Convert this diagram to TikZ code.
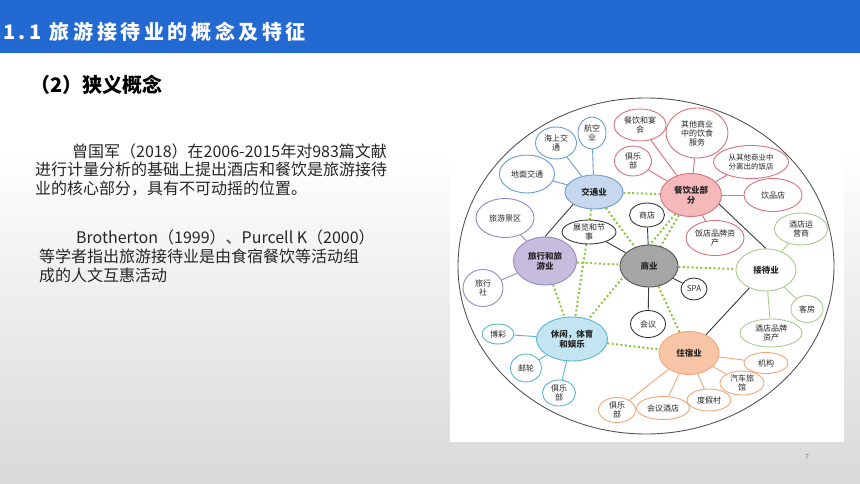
\documentclass[tikz,border=0pt]{standalone}
\usepackage{fontspec}
\usepackage{tikz}
\usetikzlibrary{shapes.geometric}
\setmainfont{Noto Sans CJK SC}
\newfontfamily\headfont[LetterSpace=18]{Noto Sans CJK SC}
\definecolor{bar}{HTML}{2369D2}
\definecolor{txt}{HTML}{262626}
\definecolor{gr}{HTML}{8DC63F}
\definecolor{b1}{HTML}{6B9BD2}
\definecolor{b2}{HTML}{C7D8EE}
\definecolor{r1}{HTML}{D8727A}
\definecolor{r2}{HTML}{F5B8BB}
\definecolor{g1}{HTML}{A8CC8C}
\definecolor{o1}{HTML}{F2A577}
\definecolor{o2}{HTML}{F8C6A6}
\definecolor{c1}{HTML}{5DB5D2}
\definecolor{c2}{HTML}{C3E5F1}
\definecolor{v1}{HTML}{9788C2}
\definecolor{v2}{HTML}{C6BCDD}
\definecolor{k1}{HTML}{555555}
\definecolor{k2}{HTML}{A6A6A6}
\definecolor{k3}{HTML}{3A3A3A}
\pgfdeclarelayer{bg}
\pgfdeclarelayer{links}
\pgfsetlayers{bg,links,main}

\begin{document}
\begin{tikzpicture}[x=1pt,y=-1pt,
  oval/.style 2 args={ellipse, draw, fill=white, line width=0.9pt, inner sep=0pt, text=black!85, minimum width=#1pt, minimum height=#2pt, align=center, font=\fontsize{8}{9}\selectfont},
  hub/.style={font=\bfseries\fontsize{8.5}{10}\selectfont},
  tie/.style={draw=gr, line width=2pt, dash pattern=on 2pt off 2.4pt},
  link/.style={line width=0.9pt}]
\useasboundingbox (0,0) rectangle (860,484);
\begin{pgfonlayer}{bg}
\fill[white] (0,0) rectangle (860,484);
\shade[top color=white, bottom color=black!15] (0,150) rectangle (860,484);
\fill[bar] (0,0) rectangle (860,53);
\fill[white] (450,92) rectangle (844,442);
\draw[k1, line width=0.9pt] (646,266) ellipse [x radius=188, y radius=168];
\end{pgfonlayer}

\node[anchor=base west, inner sep=0pt, text=white, font=\headfont\bfseries\fontsize{20}{24}\selectfont] (ttl) at (3,40) {1.1 旅游接待业的概念及特征};
\node[anchor=base west, inner sep=0pt, font=\bfseries\fontsize{20}{24}\selectfont] (sub) at (30,93) {（2）狭义概念};
\node[anchor=base west, inner sep=0pt, text=txt, align=left, font=\fontsize{16}{18}\selectfont] (p1) at (35,194) {\hspace*{37pt}曾国军（2018）在2006-2015年对983篇文献\\进行计量分析的基础上提出酒店和餐饮是旅游接待\\业的核心部分，具有不可动摇的位置。};
\node[anchor=base west, inner sep=0pt, text=txt, align=left, font=\fontsize{16}{19}\selectfont] (p2) at (39,281) {\hspace*{37pt}Brotherton（1999）、Purcell K（2000）\\等学者指出旅游接待业是由食宿餐饮等活动组\\成的人文互惠活动};
\node[text=gray, font=\fontsize{7}{8}\selectfont] (pg) at (807,457) {7};

\node[oval={58}{34}, draw=b1, fill=b2, hub] (jt) at (594,192) {交通业};
\node[oval={28}{32}, draw=b1] (hk) at (592,133) {航空\\业};
\node[oval={41}{32}, draw=b1] (hs) at (556,143) {海上交\\通};
\node[oval={55}{38}, draw=b1] (dm) at (527,174) {地面交通};

\node[oval={61}{43}, draw=r1, fill=r2, hub] (cy) at (691,195) {餐饮业部\\分};
\node[oval={52}{32}, draw=r1] (yh) at (640,125) {餐饮和宴\\会};
\node[oval={37}{30}, draw=r1] (jl1) at (633,161) {俱乐\\部};
\node[oval={62}{50}, draw=r1] (qt) at (697,133) {其他商业\\中的饮食\\服务};
\node[oval={75}{33}, draw=r1, font=\fontsize{7.5}{8.5}\selectfont] (fl) at (751,162) {从其他商业中\\分离出的饭店};
\node[oval={58}{33}, draw=r1] (yp) at (773,195) {饮品店};
\node[oval={58}{35}, draw=r1] (fd) at (715,238) {饭店品牌资\\产};

\node[oval={60}{42}, draw=g1, hub] (jd) at (766,270) {接待业};
\node[oval={53}{32}, draw=g1] (yy) at (801,229) {酒店运\\营商};
\node[oval={32}{27}, draw=g1] (kf) at (807,309) {客房};
\node[oval={62}{28}, draw=g1] (zc) at (771,333) {酒店品牌\\资产};

\node[oval={60}{43}, draw=o1, fill=o2, hub] (zs) at (689,353) {住宿业};
\node[oval={44}{21}, draw=o1] (jg) at (766,363) {机构};
\node[oval={44}{24}, draw=o1] (ql) at (742,383) {汽车旅\\馆};
\node[oval={44}{22}, draw=o1] (dj) at (709,400) {度假村};
\node[oval={53}{23}, draw=o1] (hj) at (663,408) {会议酒店};
\node[oval={37}{25}, draw=o1] (jl3) at (617,410) {俱乐\\部};

\node[oval={71}{44}, draw=c1, fill=c2, hub] (xx) at (572,339) {休闲，体育\\和娱乐};
\node[oval={32}{20}, draw=c1] (bc) at (498,334) {博彩};
\node[oval={31}{28}, draw=c1] (yl) at (526,368) {邮轮};
\node[oval={33}{26}, draw=c1] (jl2) at (559,393) {俱乐\\部};

\node[oval={63}{48}, draw=v1, fill=v2, hub] (lx) at (545,261) {旅行和旅\\游业};
\node[oval={58}{39}, draw=v1] (jq) at (505,218) {旅游景区};
\node[oval={40}{37}, draw=v1] (ls) at (483,288) {旅行\\社};

\node[oval={58}{42}, draw=k1, fill=k2, hub] (sy) at (649,266) {商业};
\node[oval={35}{24}, draw=k3] (sd) at (647,215) {商店};
\node[oval={54}{24}, draw=k3] (zl) at (589,232) {展览和节\\事};
\node[oval={26}{22}, draw=k3] (spa) at (694,289) {SPA};
\node[oval={35}{27}, draw=k3] (hy) at (648,324) {会议};

\begin{pgfonlayer}{links}
\draw[tie] (jt) -- (cy);
\draw[tie] (jt) -- (sy);
\draw[tie] (jt) -- (xx);
\draw[tie] (lx) -- (sy);
\draw[tie] (lx) -- (xx);
\draw[tie] (cy) -- (sy);
\draw[tie] (cy) -- (xx);
\draw[tie] (sy) -- (jd);
\draw[tie] (sy) -- (zs);
\draw[tie] (xx) -- (zs);

\draw[link, k3] (jt.south west) -- (lx.north);
\draw[link, k3] (cy.-18) -- (jd.north);
\draw[link, k3] (zs) -- (jd);

\draw[link, b1] (jt) -- (hk);
\draw[link, b1] (jt) -- (hs);
\draw[link, b1] (jt) -- (dm);
\draw[link, r1] (cy) -- (yh);
\draw[link, r1] (cy) -- (jl1);
\draw[link, r1] (cy) -- (qt);
\draw[link, r1] (cy) -- (fl);
\draw[link, r1] (cy) -- (yp);
\draw[link, r1] (cy) -- (fd);
\draw[link, g1] (jd) -- (yy);
\draw[link, g1] (jd) -- (kf);
\draw[link, g1] (jd) -- (zc);
\draw[link, o1] (zs) -- (jg);
\draw[link, o1] (zs) -- (ql);
\draw[link, o1] (zs) -- (dj);
\draw[link, o1] (zs) -- (hj);
\draw[link, o1] (zs) -- (jl3);
\draw[link, c1] (xx) -- (bc);
\draw[link, c1] (xx) -- (yl);
\draw[link, c1] (xx) -- (jl2);
\draw[link, v1] (lx) -- (jq);
\draw[link, v1] (lx) -- (ls);
\draw[link, k3] (sy) -- (sd);
\draw[link, k3] (sy) -- (zl);
\draw[link, k3] (sy) -- (spa);
\draw[link, k3] (sy) -- (hy);
\end{pgfonlayer}
\end{tikzpicture}
\end{document}
